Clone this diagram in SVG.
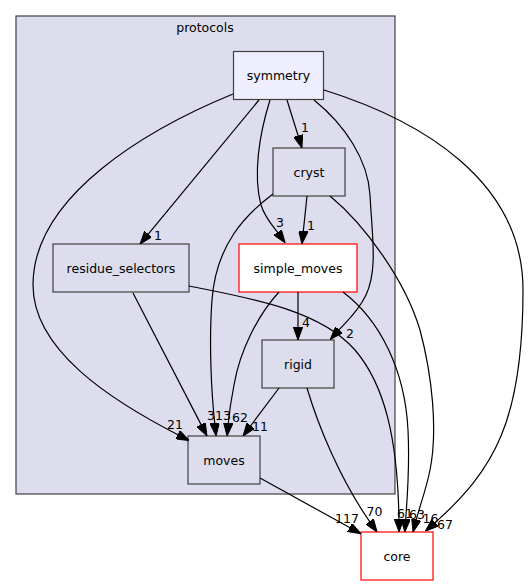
<svg xmlns="http://www.w3.org/2000/svg" width="529" height="585" viewBox="0 0 529 585">
<defs>
<marker id="ah" viewBox="0 0 13 9.4" refX="3" refY="4.7" markerWidth="13" markerHeight="9.4" markerUnits="userSpaceOnUse" orient="auto">
<path d="M0,0 L13,4.7 L0,9.4 Z" fill="#000" stroke="#000" stroke-width="1"/>
</marker>
<style>
text{font-family:"DejaVu Sans","Liberation Sans",sans-serif;font-size:12.5px;fill:#000;text-anchor:middle}
.n{fill:#ddddee;stroke:#404040;stroke-width:1.2}
.cur{fill:#eeeeff;stroke:#404040;stroke-width:1.2}
.red{fill:#ffffff;stroke:#ff0000;stroke-width:1.2}
.e{fill:none;stroke:#000;stroke-width:1.2;marker-end:url(#ah)}
</style>
</defs>
<rect width="529" height="585" fill="#fff"/>
<g id="cluster_protocols">
<rect x="16" y="16" width="379" height="478" class="n"/>
<text x="205" y="32">protocols</text>
</g>
<g id="node_symmetry"><rect x="233.5" y="51.5" width="90" height="48" class="cur"/><text x="278.5" y="80">symmetry</text></g>
<g id="node_cryst"><rect x="273" y="148" width="72" height="48" class="n"/><text x="309" y="176.5">cryst</text></g>
<g id="node_residue_selectors"><rect x="53" y="244" width="136" height="48" class="n"/><text x="121" y="272.5">residue_selectors</text></g>
<g id="node_simple_moves"><rect x="239" y="244" width="118" height="48" class="red"/><text x="298" y="272.5">simple_moves</text></g>
<g id="node_rigid"><rect x="262" y="340" width="72" height="48" class="n"/><text x="298" y="368.5">rigid</text></g>
<g id="node_moves"><rect x="188" y="436" width="72" height="48" class="n"/><text x="224" y="464.5">moves</text></g>
<g id="node_core"><rect x="361" y="532" width="72" height="48" class="red"/><text x="397" y="560.5">core</text></g>
<g id="edges">
<path class="e" d="M233,94 C150,128 33,195 33,285 C33,350 110,400 180.3,436"/>
<text x="175" y="428.5">21</text>
<path class="e" d="M259,100 L146.4,236.3"/>
<text x="158" y="239.5">1</text>
<path class="e" d="M287,100 L299,138.5"/>
<text x="305" y="131.5">1</text>
<path class="e" d="M270,100 C259,135 253,175 261,205 C265,218 273,226 279.3,234.7"/>
<text x="280" y="227">3</text>
<path class="e" d="M314,100 C345,125 368,160 370,195 C372,235 378,270 366,295 C358,312 346,322 337,332"/>
<text x="350" y="337.5">2</text>
<path class="e" d="M324,90 C420,120 523,180 523,290 C523,420 495,470 432.8,524.6"/>
<text x="445" y="529">67</text>
<path class="e" d="M307,196 L303,234"/>
<text x="311" y="229.5">1</text>
<path class="e" d="M273,194 C245,215 216,245 212,300 C209,340 211,390 215,426"/>
<text x="223" y="419.5">13</text>
<path class="e" d="M133,293 L202.4,427.1"/>
<text x="211" y="419.5">3</text>
<path class="e" d="M279,292 C258,315 240,350 234,385 C231,400 229,415 228,426"/>
<text x="240" y="422">62</text>
<path class="e" d="M279,388 L249,428"/>
<text x="260" y="430.5">11</text>
<path class="e" d="M298,292 L298,330"/>
<text x="306" y="326.5">4</text>
<path class="e" d="M260,478 L352.3,529"/>
<text x="347" y="522.5">117</text>
<path class="e" d="M307,388 C318,425 340,480 371.3,523.8"/>
<text x="374.5" y="515.5">70</text>
<path class="e" d="M189,286 C250,298 320,310 355,350 C385,385 398,440 399,522"/>
<text x="405" y="517.5">61</text>
<path class="e" d="M343,292 C380,320 405,370 408,430 C410,470 407,500 405.5,522"/>
<text x="417" y="518.5">63</text>
<path class="e" d="M330,196 C365,225 405,280 420,330 C432,375 438,430 430,470 C426,490 420,505 415.5,522.5"/>
<text x="430.5" y="522.5">16</text>
</g>
</svg>
